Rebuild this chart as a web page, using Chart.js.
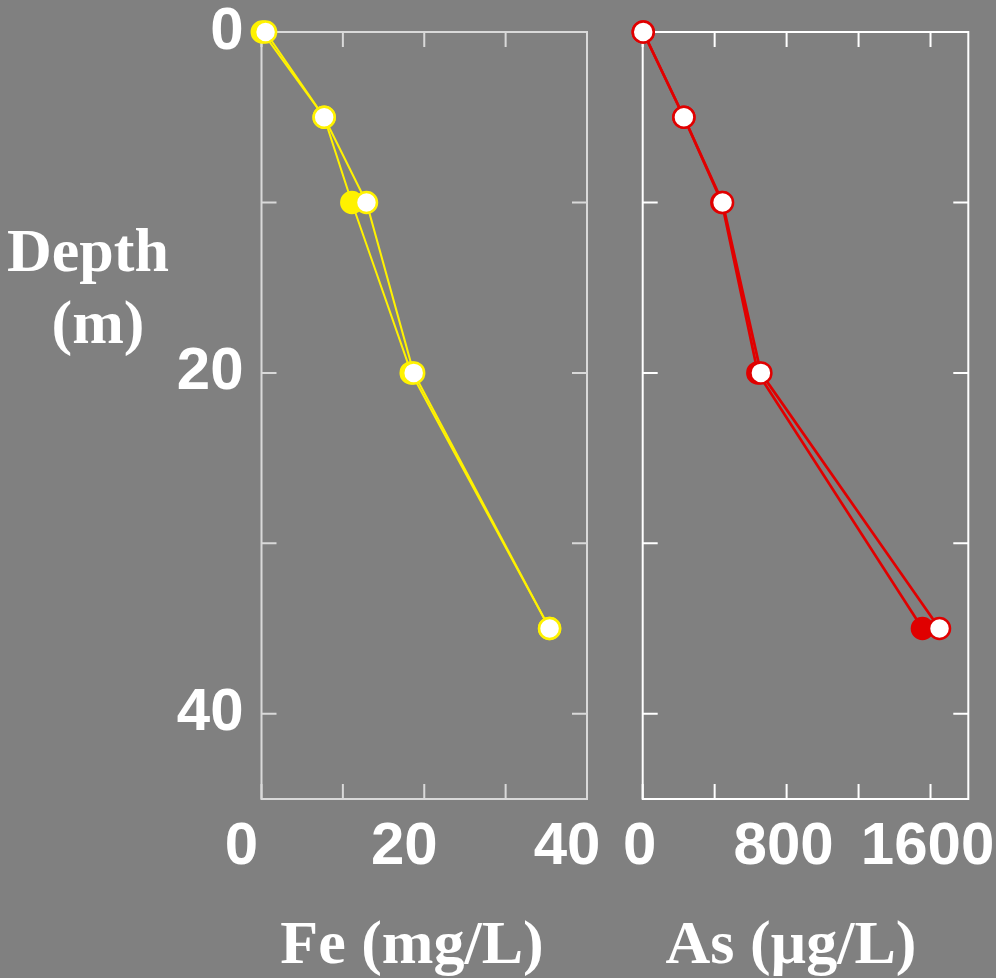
<!DOCTYPE html>
<html>
<head>
<meta charset="utf-8">
<script src="https://cdn.jsdelivr.net/npm/chart.js@4.4.0/dist/chart.umd.min.js"></script>
<style>
  html, body { margin: 0; padding: 0; background: #808080; }
  #page { position: relative; width: 996px; height: 978px; overflow: hidden; background: #808080; }
  .panel { position: absolute; top: 0; height: 978px; }
  .title {
    position: absolute; color: #fff; white-space: nowrap; text-align: center;
    font: bold 62px "Liberation Serif", "Times New Roman", serif; line-height: 72px;
  }
</style>
</head>
<body>
<div id="page">
  <div class="panel" style="left:0;width:650px"><canvas id="feChart"></canvas></div>
  <div class="panel" style="left:600px;width:396px"><canvas id="asChart"></canvas></div>
  <div class="title" style="left:-12px;width:200px;top:214px">Depth</div>
  <div class="title" style="left:-2px;width:200px;top:286px">(m)</div>
  <div class="title" style="left:262px;width:300px;top:906px">Fe (mg/L)</div>
  <div class="title" style="left:641px;width:300px;top:906px">As (µg/L)</div>
</div>
<script>
// depth of each sample (m)
const depths = [0, 5, 10, 20, 35];

// iron, mg/L
const feOpen = [0.5, 7.7, 12.9, 18.7, 35.4];
const feSolid = [0.1, 7.7, 11.1, 18.4, 35.4];

// arsenic, ug/L
const asOpen = [3, 229, 444, 657, 1650];
const asSolid = [3, 229, 440, 640, 1555];

// labelled ticks
const feLabels = [0, 20, 40];
const asLabels = [0, 800, 1600];
const depthLabels = [0, 20, 40];

const tickFont = { family: "'Liberation Sans', Arial, sans-serif", size: 60, weight: "bold", lineHeight: 1 };

// box around the plot area with short inward ticks on all four sides
const framePlugin = {
  id: "frame",
  beforeDatasetsDraw(chart, args, opts) {
    const { ctx, chartArea: a, scales } = chart;
    const len = 15;
    ctx.save();
    ctx.strokeStyle = opts.color;
    ctx.lineWidth = 2;
    ctx.strokeRect(a.left, a.top, a.right - a.left, a.bottom - a.top);
    ctx.beginPath();
    scales.x.ticks.forEach((t) => {
      const px = scales.x.getPixelForValue(t.value);
      ctx.moveTo(px, a.top);
      ctx.lineTo(px, a.top + len);
      ctx.moveTo(px, a.bottom);
      ctx.lineTo(px, a.bottom - len);
    });
    scales.y.ticks.forEach((t) => {
      const py = scales.y.getPixelForValue(t.value);
      ctx.moveTo(a.left, py);
      ctx.lineTo(a.left + len, py);
      ctx.moveTo(a.right, py);
      ctx.lineTo(a.right - len, py);
    });
    ctx.stroke();
    ctx.restore();
  },
};

function points(xs) {
  return xs.map((v, i) => ({ x: v, y: depths[i] }));
}

// keep the plot box where the layout padding puts it
function noOverhang(s) {
  s.paddingTop = 0;
  s.paddingBottom = 0;
  s.paddingLeft = 0;
  s.paddingRight = 0;
}

function profile(id, o) {
  const series = (xs, fill) => ({
    data: points(xs),
    clip: false,
    borderColor: o.color,
    borderWidth: o.lineWidth,
    pointRadius: 10.5,
    pointBorderWidth: 2.5,
    pointBackgroundColor: fill,
    pointBorderColor: o.color,
  });

  return new Chart(document.getElementById(id), {
    type: "line",
    data: {
      datasets: [series(o.open, "#ffffff"), series(o.solid, o.color)],
    },
    options: {
      responsive: true,
      maintainAspectRatio: false,
      animation: false,
      layout: { padding: { top: 32, right: o.padRight, bottom: 0, left: 0 } },
      plugins: {
        legend: { display: false },
        tooltip: { enabled: false },
        frame: { color: o.frame },
      },
      scales: {
        x: {
          type: "linear",
          min: 0,
          max: o.max,
          grid: { display: false, drawTicks: false },
          border: { display: false },
          ticks: {
            stepSize: o.step,
            includeBounds: false,
            autoSkip: false,
            maxRotation: 0,
            padding: 18,
            labelOffset: o.labelOffset,
            color: "#ffffff",
            font: tickFont,
            callback: (v) => (o.labels.includes(v) ? String(v) : ""),
          },
          afterFit: (s) => {
            s.height = 179;
            noOverhang(s);
          },
        },
        y: {
          type: "linear",
          reverse: true,
          min: 0,
          max: 45,
          grid: { display: false, drawTicks: false },
          border: { display: false },
          ticks: {
            display: o.showDepth,
            stepSize: 10,
            includeBounds: false,
            autoSkip: false,
            padding: 18,
            color: "#ffffff",
            font: tickFont,
            callback: (v) => (depthLabels.includes(v) ? String(v) : ""),
          },
          afterFit: (s) => {
            s.width = o.yWidth;
            noOverhang(s);
          },
        },
      },
    },
    plugins: [framePlugin],
  });
}

profile("feChart", {
  open: feOpen, solid: feSolid, color: "#fff200", lineWidth: 2,
  max: 40, step: 10, labels: feLabels, labelOffset: -20,
  frame: "#d9d9d9", showDepth: true, yWidth: 261.5, padRight: 63,
});

profile("asChart", {
  open: asOpen, solid: asSolid, color: "#e00000", lineWidth: 2.7,
  max: 1810, step: 400, labels: asLabels, labelOffset: -3,
  frame: "#ffffff", showDepth: false, yWidth: 42.7, padRight: 27.7,
});
</script>
</body>
</html>
